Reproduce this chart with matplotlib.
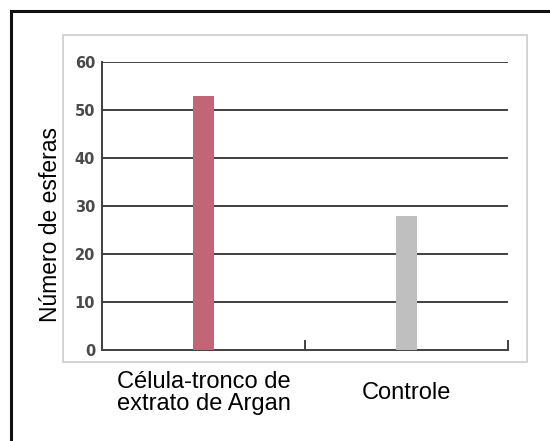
import matplotlib.pyplot as plt
from matplotlib.lines import Line2D
from matplotlib.patches import Rectangle

categories = ['Célula-tronco de\nextrato de Argan', 'Controle']
values = [53, 28]
colors = ['#c26577', '#bfbfbf']
yticks = [0, 10, 20, 30, 40, 50, 60]

fig = plt.figure(figsize=(5.5, 4.41), dpi=100)
ax = fig.add_axes([102 / 550, 91 / 441, 406 / 550, 288 / 441])

axis_col = '#404040'

# outer black frame (left and top only)
fig.add_artist(Line2D([11 / 550, 11 / 550], [0, 1 - 11 / 441], color='#111111', lw=2.2,
                      transform=fig.transFigure, solid_capstyle='projecting'))
fig.add_artist(Line2D([11 / 550, 1], [1 - 11 / 441, 1 - 11 / 441], color='#111111', lw=2.2,
                      transform=fig.transFigure, solid_capstyle='projecting'))
# light grey box round the chart
fig.add_artist(Rectangle((63 / 550, 1 - 362 / 441), (527 - 63) / 550, (362 - 35) / 441,
                         transform=fig.transFigure, fill=False, edgecolor='#cccccc', lw=1.2))

x = range(len(categories))
ax.bar(x, values, width=0.1, color=colors, zorder=3)

ax.set_xlim(-0.5, len(categories) - 0.5)
ax.set_ylim(0, 60)
ax.set_yticks(yticks)
ax.set_yticklabels([str(t) for t in yticks], fontsize=10.5, fontweight='bold',
                   color='#4a4a4a', family='DejaVu Sans')
ax.tick_params(axis='y', length=0, pad=5)
for t in yticks[1:]:
    ax.axhline(t, color=axis_col, lw=1.4, zorder=2)

ax.set_xticks(list(x))
ax.set_xticklabels(categories, fontsize=17, family='Liberation Sans', va='center',
                   linespacing=1.05)
ax.tick_params(axis='x', which='major', length=0, pad=31)
ax.set_xticks([i + 0.5 for i in x], minor=True)
ax.tick_params(axis='x', which='minor', direction='in', length=7, width=1.4, color=axis_col)

for s in ['top', 'right']:
    ax.spines[s].set_visible(False)
for s in ['left', 'bottom']:
    ax.spines[s].set_color(axis_col)
    ax.spines[s].set_linewidth(1.4)

ax.set_ylabel('Número de esferas', fontsize=16.5, family='Liberation Sans', va='center')
ax.yaxis.set_label_coords(-0.128, 0.4375)

fig.savefig('out.png', dpi=100)
